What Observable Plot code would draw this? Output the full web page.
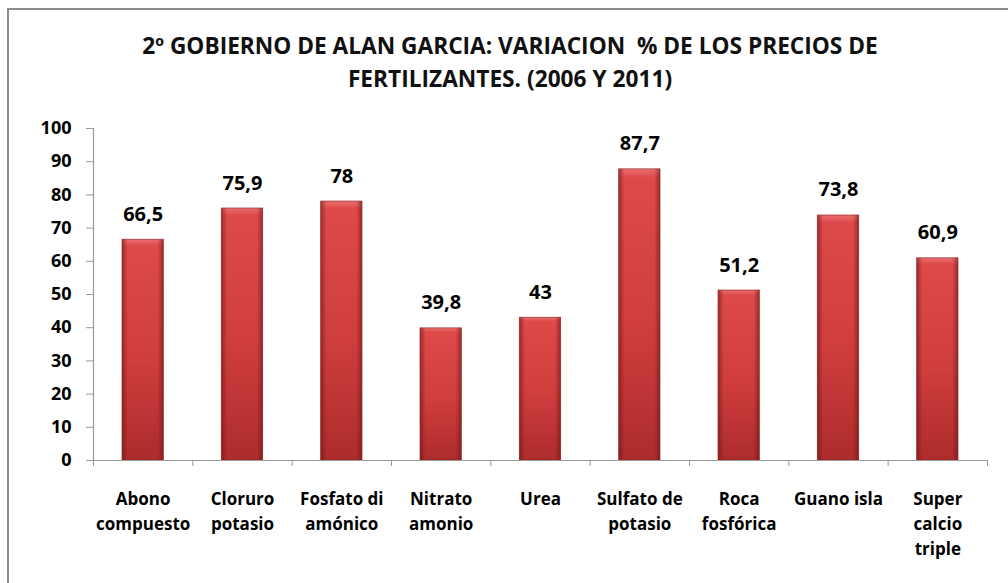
<!DOCTYPE html>
<html>
<head>
<meta charset="utf-8">
<script src="https://cdn.jsdelivr.net/npm/d3@7"></script>
<script src="https://cdn.jsdelivr.net/npm/@observablehq/plot@0.6"></script>
<style>
  html, body { margin: 0; padding: 0; background: #fff; overflow: hidden; }
  #page { position: relative; width: 1008px; height: 583px; overflow: hidden; background: #fff; }
  #frame { position: absolute; left: 7px; top: 8px; width: 1100px; height: 700px;
           border-top: 2px solid #8c8c8c; border-left: 2px solid #8c8c8c; z-index: 2; pointer-events: none; }
  #title { position: absolute; left: 10px; top: 29px; width: 1000px; text-align: center;
           font-family: "Open Sans", sans-serif; font-weight: 700; font-size: 22.7px;
           line-height: 33px; color: #111; }
  #chart { position: absolute; left: 0; top: 110px; }
  #chart svg { background: transparent !important; }
</style>
</head>
<body>
<div id="page">
  <div id="frame"></div>
  <div id="title">2º GOBIERNO DE ALAN GARCIA: VARIACION&nbsp; % DE LOS PRECIOS DE<br>FERTILIZANTES. (2006 Y 2011)</div>
  <div id="chart"></div>
</div>
<script>
const categories = ["Abono compuesto", "Cloruro potasio", "Fosfato di amónico", "Nitrato amonio", "Urea", "Sulfato de potasio", "Roca fosfórica", "Guano isla", "Super calcio triple"];
const categoryLabels = ["Abono\ncompuesto", "Cloruro\npotasio", "Fosfato di\namónico", "Nitrato\namonio", "Urea", "Sulfato de\npotasio", "Roca\nfosfórica", "Guano isla", "Super\ncalcio\ntriple"];
const values = [66.5, 75.9, 78, 39.8, 43, 87.7, 51.2, 73.8, 60.9];
const yTicks = [0, 10, 20, 30, 40, 50, 60, 70, 80, 90, 100];

const data = categories.map((c, i) => ({ i, c, label: categoryLabels[i], v: values[i] }));
const fmt = v => String(v).replace(".", ",");

const defs = () => {
  const d = d3.create("svg:defs");
  const gv = d.append("linearGradient").attr("id", "barV").attr("x1", 0).attr("y1", 0).attr("x2", 0).attr("y2", 1);
  gv.append("stop").attr("offset", "0%").attr("stop-color", "#ea6f6f");
  gv.append("stop").attr("offset", "3%").attr("stop-color", "#de4a4a");
  gv.append("stop").attr("offset", "55%").attr("stop-color", "#cf3d3d");
  gv.append("stop").attr("offset", "100%").attr("stop-color", "#ad2c2c");
  const gh = d.append("linearGradient").attr("id", "barH").attr("x1", 0).attr("y1", 0).attr("x2", 1).attr("y2", 0);
  gh.append("stop").attr("offset", "0%").attr("stop-color", "#6e1414").attr("stop-opacity", 0.6);
  gh.append("stop").attr("offset", "14%").attr("stop-color", "#6e1414").attr("stop-opacity", 0.0);
  gh.append("stop").attr("offset", "86%").attr("stop-color", "#6e1414").attr("stop-opacity", 0.0);
  gh.append("stop").attr("offset", "100%").attr("stop-color", "#6e1414").attr("stop-opacity", 0.6);
  return d.node();
};

const plot = Plot.plot({
  width: 1008,
  height: 473,
  marginLeft: 93,
  marginRight: 21,
  marginTop: 18,
  marginBottom: 123,
  style: { fontFamily: "Open Sans, sans-serif", background: "transparent", color: "#000" },
  x: { domain: [0, categories.length], axis: null },
  y: { domain: [0, 100], axis: null },
  marks: [
    defs,
    Plot.rectY(data, { x1: d => d.i, x2: d => d.i + 1, y: "v", insetLeft: 29, insetRight: 29, fill: "url(#barV)" }),
    Plot.rectY(data, { x1: d => d.i, x2: d => d.i + 1, y: "v", insetLeft: 29, insetRight: 29, fill: "url(#barH)", stroke: "#8e2424", strokeWidth: 0.8, strokeOpacity: 0.8 }),
    Plot.ruleX([0], { y1: 0, y2: 100, stroke: "#9a9a9a", strokeWidth: 1.2 }),
    Plot.ruleY([0], { stroke: "#9a9a9a", strokeWidth: 1.2 }),
    Plot.axisY({ ticks: yTicks, tickSize: 7, tickPadding: 15, stroke: "#9a9a9a", fontSize: 18, fontWeight: "bold", fill: "#000", label: null, tickFormat: d => String(d) }),
    Plot.axisX({ ticks: d3.range(categories.length + 1), tickSize: 6, stroke: "#9a9a9a", tickFormat: () => "", label: null }),
    Plot.text(data, { x: d => d.i + 0.5, y: "v", text: d => fmt(d.v), lineAnchor: "bottom", dy: -19, fontSize: 20, fontWeight: "bold", fill: "#000" }),
    Plot.text(data, { x: d => d.i + 0.5, y: 0, text: "label", lineAnchor: "top", dy: 27, fontSize: 17, lineHeight: 1.47, fontWeight: "bold", fill: "#000" })
  ]
});
document.getElementById("chart").appendChild(plot);
</script>
</body>
</html>
